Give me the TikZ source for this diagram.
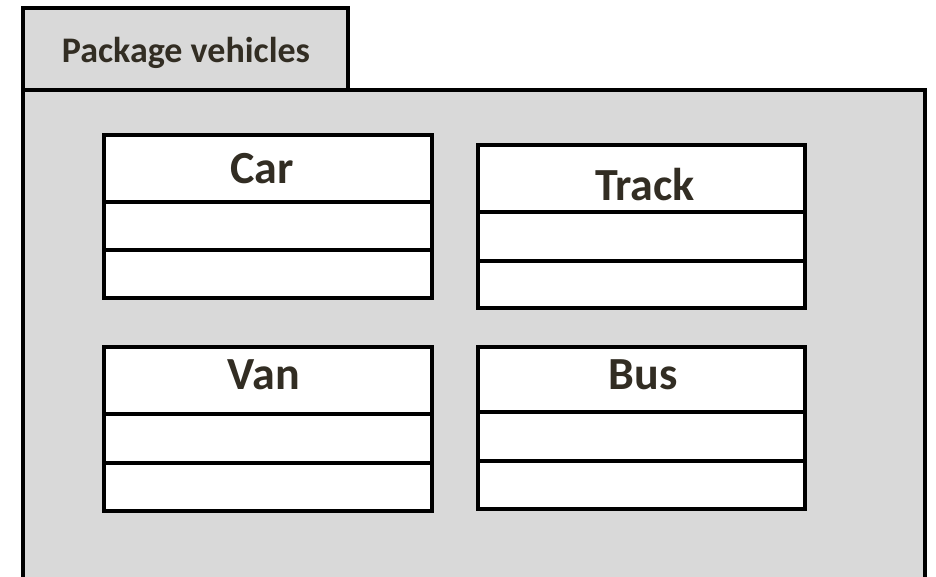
\documentclass[tikz,border=0pt]{standalone}
\usepackage{fontspec}
\setmainfont{Carlito}
\definecolor{pkgfill}{RGB}{217,217,217}
\definecolor{inkdark}{RGB}{50,45,35}
\tikzset{
  outline/.style={draw=black, line width=3.6pt, line join=miter},
  classbox/.style={outline, fill=white, rectangle, inner sep=0pt, outer sep=0pt},
  classtitle/.style={anchor=base, inner sep=0pt, text=inkdark, font=\bfseries\fontsize{46}{46}\selectfont},
  pkgtitle/.style={anchor=base, inner sep=0pt, text=inkdark, font=\bfseries\fontsize{36}{36}\selectfont},
}
\begin{document}
\begin{tikzpicture}[x=1pt, y=-1pt]
  \useasboundingbox (0,0) rectangle (936,577);
  \clip (0,0) rectangle (936,577);

  % package tab and body (body runs on past the lower edge)
  \path[outline, fill=pkgfill] (23,8) rectangle (348,90);
  \path[fill=pkgfill] (23,90) rectangle (925,600);
  \draw[outline] (23,600) -- (23,90) -- (925,90) -- (925,600);
  \node[pkgtitle] (pkg) at (186,63) {Package vehicles};

  % Car
  \node[classbox, minimum width=328pt, minimum height=163pt] (car) at (268,216.5) {};
  \draw[outline] ([yshift=-67pt]car.north west) -- ([yshift=-67pt]car.north east);
  \draw[outline] ([yshift=-115pt]car.north west) -- ([yshift=-115pt]car.north east);
  \node[classtitle] (cart) at (262,184) {Car};

  % Track
  \node[classbox, minimum width=327pt, minimum height=163pt] (track) at (641.5,226.5) {};
  \draw[outline] ([yshift=-67pt]track.north west) -- ([yshift=-67pt]track.north east);
  \draw[outline] ([yshift=-116pt]track.north west) -- ([yshift=-116pt]track.north east);
  \node[classtitle] (trackt) at (645,201) {Track};

  % Van
  \node[classbox, minimum width=328pt, minimum height=164pt] (van) at (268,429) {};
  \draw[outline] ([yshift=-67pt]van.north west) -- ([yshift=-67pt]van.north east);
  \draw[outline] ([yshift=-116pt]van.north west) -- ([yshift=-116pt]van.north east);
  \node[classtitle] (vant) at (264,389) {Van};

  % Bus
  \node[classbox, minimum width=327pt, minimum height=162pt] (bus) at (641.5,428) {};
  \draw[outline] ([yshift=-65pt]bus.north west) -- ([yshift=-65pt]bus.north east);
  \draw[outline] ([yshift=-114pt]bus.north west) -- ([yshift=-114pt]bus.north east);
  \node[classtitle] (bust) at (643,389) {Bus};
\end{tikzpicture}
\end{document}
